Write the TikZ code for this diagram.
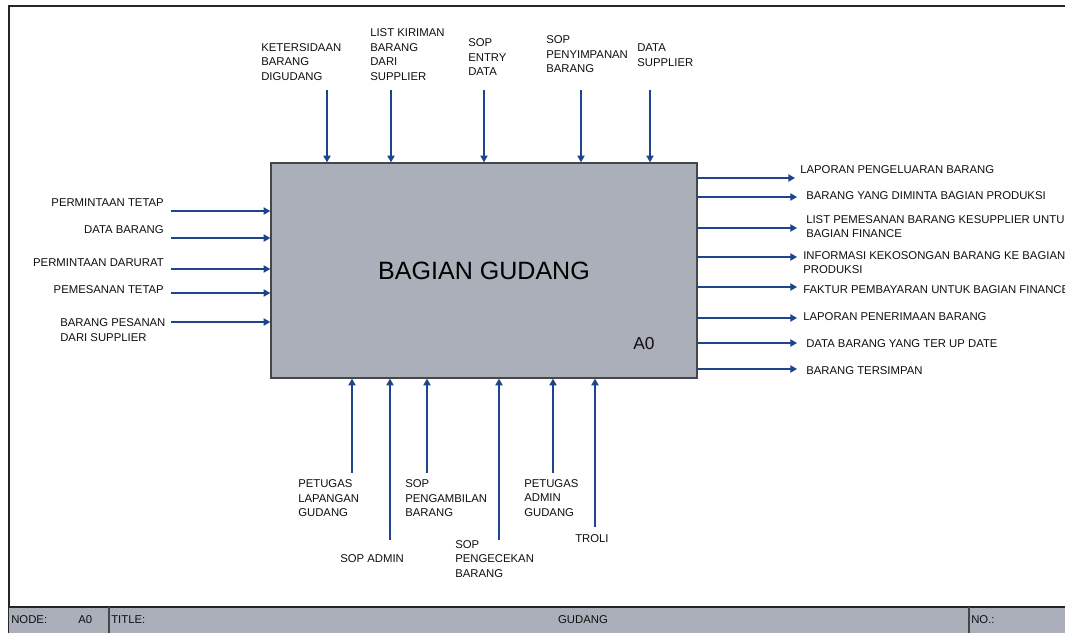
\documentclass[tikz,border=0pt]{standalone}
\usepackage{fontspec}
\setmainfont{Liberation Sans}
\usepackage{tikz}
\usetikzlibrary{positioning,arrows.meta,calc}
\definecolor{gdBlue}{RGB}{30,68,140}
\definecolor{gdBox}{RGB}{170,175,185}
\definecolor{gdLine}{RGB}{70,70,72}
\definecolor{gdText}{RGB}{15,15,18}
\tikzset{
    base/.style={font=\fontsize{8.5}{10.9}\selectfont, text=gdText, align=left, inner sep=0pt},
    lbl/.style={base, anchor=west},
    lblr/.style={base, anchor=east, align=right},
    activity/.style={rectangle, draw=gdLine, line width=1.1pt, fill=gdBox,
                     minimum width=319.5pt, minimum height=161.25pt, inner sep=0pt,
                     font=\fontsize{18.8}{22}\selectfont, text=black},
    flow/.style={-{Triangle[length=5pt,width=5.5pt]}, line width=0.85pt, color=gdBlue},
    frame/.style={line width=1.1pt, color=black!85}
}

\begin{document}
\begin{tikzpicture}[x=0.75pt, y=-0.75pt]
  \useasboundingbox (0,0) rectangle (1065,633);
  % outer frame and title bar
  \draw[frame] (9,633) -- (9,6) -- (1065,6);
  \fill[gdBox] (9,607) rectangle (1065,633);
  \draw[frame] (9,607) -- (1065,607);
  \draw[gdLine, line width=0.8pt] (109,607) -- (109,633);
  \draw[gdLine, line width=0.8pt] (969,607) -- (969,633);
  \node[lbl] (nodeLbl) at (11,620) {NODE:};
  \node[lbl] (nodeNo) at (78,620) {A0};
  \node[lbl] (titleLbl) at (111,620) {TITLE:};
  \node[base] (titleTxt) at (583,620) {GUDANG};
  \node[lbl] (noLbl) at (971,620) {NO.:};

  % activity box
  \node[activity] (box) at (484,270.5) {BAGIAN GUDANG};
  \node[base, font=\fontsize{13}{15}\selectfont, anchor=west] (boxId) at (633,344) {A0};

  % controls (top)
  \node[lbl] (ctlA) at (261,62) {KETERSIDAAN\\BARANG\\DIGUDANG};
  \node[lbl] (ctlB) at (370,54.5) {LIST KIRIMAN\\BARANG\\DARI\\SUPPLIER};
  \node[lbl] (ctlC) at (468,57.5) {SOP\\ENTRY\\DATA};
  \node[lbl] (ctlD) at (546,54.5) {SOP\\PENYIMPANAN\\BARANG};
  \node[lbl] (ctlE) at (637,55) {DATA\\SUPPLIER};
  \coordinate (cA) at (327,90);
  \coordinate (cB) at (391,90);
  \coordinate (cC) at (484,90);
  \coordinate (cD) at (581,90);
  \coordinate (cE) at (650,90);
  \draw[flow] (cA) -- (cA |- box.north);
  \draw[flow] (cB) -- (cB |- box.north);
  \draw[flow] (cC) -- (cC |- box.north);
  \draw[flow] (cD) -- (cD |- box.north);
  \draw[flow] (cE) -- (cE |- box.north);

  % inputs (left)
  \node[lblr] (inA) at (164,203) {PERMINTAAN TETAP};
  \node[lblr] (inB) at (164,230) {DATA BARANG};
  \node[lblr] (inC) at (164,263) {PERMINTAAN DARURAT};
  \node[lblr] (inD) at (164,290) {PEMESANAN TETAP};
  \node[lbl] (inE) at (60,330) {BARANG PESANAN\\DARI SUPPLIER};
  \coordinate (iA) at (171,211);
  \coordinate (iB) at (171,238);
  \coordinate (iC) at (171,269);
  \coordinate (iD) at (171,293);
  \coordinate (iE) at (171,322);
  \draw[flow] (iA) -- (iA -| box.west);
  \draw[flow] (iB) -- (iB -| box.west);
  \draw[flow] (iC) -- (iC -| box.west);
  \draw[flow] (iD) -- (iD -| box.west);
  \draw[flow] (iE) -- (iE -| box.west);

  % outputs (right)
  \node[lbl] (outA) at (800,170) {LAPORAN PENGELUARAN BARANG};
  \node[lbl] (outB) at (806,196) {BARANG YANG DIMINTA BAGIAN PRODUKSI};
  \node[lbl] (outC) at (806,226.5) {LIST PEMESANAN BARANG KESUPPLIER UNTUK\\BAGIAN FINANCE};
  \node[lbl] (outD) at (803,262.5) {INFORMASI KEKOSONGAN BARANG KE BAGIAN\\PRODUKSI};
  \node[lbl] (outE) at (803,290) {FAKTUR PEMBAYARAN UNTUK BAGIAN FINANCE};
  \node[lbl] (outF) at (803,317) {LAPORAN PENERIMAAN BARANG};
  \node[lbl] (outG) at (806,344) {DATA BARANG YANG TER UP DATE};
  \node[lbl] (outH) at (806,371) {BARANG TERSIMPAN};
  \coordinate (oA) at (795,178);
  \coordinate (oB) at (797,197);
  \coordinate (oC) at (797,228);
  \coordinate (oD) at (797,257);
  \coordinate (oE) at (797,287);
  \coordinate (oF) at (797,318);
  \coordinate (oG) at (797,343);
  \coordinate (oH) at (797,369);
  \draw[flow] (oA -| box.east) -- (oA);
  \draw[flow] (oB -| box.east) -- (oB);
  \draw[flow] (oC -| box.east) -- (oC);
  \draw[flow] (oD -| box.east) -- (oD);
  \draw[flow] (oE -| box.east) -- (oE);
  \draw[flow] (oF -| box.east) -- (oF);
  \draw[flow] (oG -| box.east) -- (oG);
  \draw[flow] (oH -| box.east) -- (oH);

  % mechanisms (bottom)
  \node[lbl] (mchA) at (298,498.5) {PETUGAS\\LAPANGAN\\GUDANG};
  \node[lbl] (mchB) at (340,559) {SOP ADMIN};
  \node[lbl] (mchC) at (405,498.5) {SOP\\PENGAMBILAN\\BARANG};
  \node[lbl] (mchD) at (455,559) {SOP\\PENGECEKAN\\BARANG};
  \node[lbl] (mchE) at (524,498) {PETUGAS\\ADMIN\\GUDANG};
  \node[lbl] (mchF) at (575,539) {TROLI};
  \coordinate (mA) at (352,473);
  \coordinate (mB) at (390,540);
  \coordinate (mC) at (427,473);
  \coordinate (mD) at (499,540);
  \coordinate (mE) at (553,473);
  \coordinate (mF) at (595,527);
  \draw[flow] (mA) -- (mA |- box.south);
  \draw[flow] (mB) -- (mB |- box.south);
  \draw[flow] (mC) -- (mC |- box.south);
  \draw[flow] (mD) -- (mD |- box.south);
  \draw[flow] (mE) -- (mE |- box.south);
  \draw[flow] (mF) -- (mF |- box.south);
\end{tikzpicture}
\end{document}
